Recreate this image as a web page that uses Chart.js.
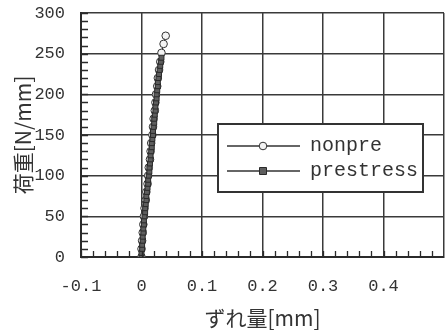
<!DOCTYPE html>
<html>
<head>
<meta charset="utf-8">
<script src="https://cdn.jsdelivr.net/npm/chart.js@4.4.0/dist/chart.umd.min.js"></script>
<style>
  html, body { margin: 0; padding: 0; background: #fff; overflow: hidden; }
  #wrap { width: 449px; height: 331px; }
</style>
</head>
<body>
<div id="wrap"><canvas id="c"></canvas></div>
<script>
// load [N/mm] vs slip [mm]
const prestressLoad = [0, 5, 10, 15, 20, 25, 30, 35, 40, 45, 50, 55, 60, 65, 70, 75, 80, 85, 90, 95,
  100, 105, 110, 115, 120, 125, 130, 135, 140, 145, 150, 155, 160, 165, 170, 175, 180, 185, 190, 195,
  200, 205, 210, 215, 220, 225, 230, 235, 240, 245];
const prestressSlip = [0.000, 0.000, 0.001, 0.001, 0.002, 0.002, 0.003, 0.003, 0.004, 0.004,
  0.005, 0.006, 0.006, 0.007, 0.008, 0.008, 0.009, 0.010, 0.011, 0.011,
  0.012, 0.013, 0.013, 0.014, 0.015, 0.015, 0.016, 0.017, 0.017, 0.018,
  0.019, 0.019, 0.020, 0.021, 0.021, 0.022, 0.023, 0.023, 0.024, 0.025,
  0.025, 0.026, 0.027, 0.027, 0.028, 0.029, 0.030, 0.031, 0.032, 0.033];

const nonpreLoad = [0, 10, 20, 30, 40, 50, 60, 70, 80, 90, 100, 110, 120, 130, 140, 150, 160, 170,
  180, 190, 200, 210, 220, 230, 240, 251, 262, 272];
const nonpreSlip = [0.000, 0.000, 0.001, 0.002, 0.003, 0.004, 0.005, 0.007, 0.008, 0.010, 0.011,
  0.012, 0.014, 0.015, 0.016, 0.018, 0.019, 0.020, 0.022, 0.023, 0.024, 0.026, 0.027, 0.029,
  0.031, 0.033, 0.0365, 0.040];

const seriesNames = ["nonpre", "prestress"];
const xTitle = "ずれ量[mm]";
const yTitle = "荷重[N/mm]";

const toPoints = (xs, ys) => xs.map((x, i) => ({ x: x, y: ys[i] }));

const monoFont = "'Liberation Mono', 'DejaVu Sans Mono', monospace";
const cjkFont = "'Noto Sans CJK JP', sans-serif";
const ink = "#2a2a2a";

// inward minor ticks + legend box
const decorations = {
  id: "decorations",
  afterDatasetsDraw(chart) {
    const ctx = chart.ctx;
    const area = chart.chartArea;
    const xs = chart.scales.x;
    const ys = chart.scales.y;
    ctx.save();
    ctx.strokeStyle = ink;
    ctx.lineWidth = 1.3;
    ctx.beginPath();
    for (let v = -0.1; v < 0.5; v += 0.02) {
      const px = Math.round(xs.getPixelForValue(v)) + 0.5;
      ctx.moveTo(px, area.bottom);
      ctx.lineTo(px, area.bottom - 6);
    }
    for (let v = 0; v <= 300; v += 10) {
      const py = Math.round(ys.getPixelForValue(v)) + 0.5;
      ctx.moveTo(area.left, py);
      ctx.lineTo(area.left + 7, py);
    }
    ctx.stroke();

    // legend
    const bx = 218, by = 124, bw = 205, bh = 68;
    ctx.fillStyle = "#fff";
    ctx.fillRect(bx, by, bw, bh);
    ctx.lineWidth = 2;
    ctx.strokeStyle = "#333";
    ctx.strokeRect(bx, by, bw, bh);
    const rows = [146, 171];
    chart.data.datasets.forEach((ds, i) => {
      const y = rows[i];
      ctx.strokeStyle = ds.borderColor;
      ctx.lineWidth = 1.5;
      ctx.beginPath();
      ctx.moveTo(227, y);
      ctx.lineTo(300, y);
      ctx.stroke();
      ctx.fillStyle = ds.pointBackgroundColor;
      ctx.strokeStyle = ds.pointBorderColor;
      ctx.lineWidth = 1;
      ctx.beginPath();
      if (ds.pointStyle === "rect") {
        ctx.rect(263 - 3.5, y - 3.5, 7, 7);
      } else {
        ctx.arc(263, y, 3.8, 0, Math.PI * 2);
      }
      ctx.fill();
      ctx.stroke();
      ctx.fillStyle = "#333";
      ctx.font = "20px " + monoFont;
      ctx.textBaseline = "middle";
      ctx.fillText(ds.label, 310, y);
    });
    ctx.restore();
  }
};

new Chart(document.getElementById("c"), {
  type: "scatter",
  data: {
    datasets: [
      {
        label: seriesNames[0],
        data: toPoints(nonpreSlip, nonpreLoad),
        showLine: true,
        borderColor: "#333",
        borderWidth: 1.2,
        pointStyle: "circle",
        pointRadius: 3.8,
        pointBackgroundColor: "#f4f4f4",
        pointBorderColor: "#333",
        pointBorderWidth: 1,
        order: 1
      },
      {
        label: seriesNames[1],
        data: toPoints(prestressSlip, prestressLoad),
        showLine: true,
        borderColor: "#333",
        borderWidth: 1.2,
        pointStyle: "rect",
        pointRadius: 3.5,
        pointBackgroundColor: "#5e5e5e",
        pointBorderColor: "#2a2a2a",
        pointBorderWidth: 1,
        order: 0
      }
    ]
  },
  options: {
    responsive: true,
    maintainAspectRatio: false,
    animation: false,
    layout: { padding: { top: 13, right: 0, left: 0, bottom: 0 } },
    plugins: { legend: { display: false }, tooltip: { enabled: false } },
    scales: {
      x: {
        type: "linear",
        min: -0.1,
        max: 0.5,
        afterFit: (s) => { s.height = 74; },
        grid: { color: "#3a3a3a", lineWidth: 1.5, drawTicks: true, tickLength: 18, tickColor: "rgba(0,0,0,0)" },
        border: { color: ink, width: 2 },
        ticks: {
          stepSize: 0.1,
          padding: 1,
          autoSkip: false,
          maxRotation: 0,
          color: "#333",
          font: { family: monoFont, size: 17 },
          callback: (v) => (Math.abs(v - 0.5) < 1e-9 ? "" : Math.abs(v) < 1e-9 ? "0" : v.toFixed(1))
        },
        title: {
          display: true,
          text: xTitle,
          color: "#333",
          font: { family: cjkFont, size: 21 },
          padding: { top: 0, bottom: 0 }
        }
      },
      y: {
        min: 0,
        max: 300,
        afterFit: (s) => { s.width = 81; },
        grid: { color: "#3a3a3a", lineWidth: 1.5, drawTicks: true, tickLength: 14, tickColor: "rgba(0,0,0,0)" },
        border: { color: ink, width: 2 },
        ticks: {
          stepSize: 50,
          padding: 2,
          color: "#333",
          font: { family: monoFont, size: 17 }
        },
        title: {
          display: true,
          text: yTitle,
          color: "#333",
          font: { family: cjkFont, size: 21 },
          padding: { top: 10, bottom: 0 }
        }
      }
    }
  },
  plugins: [decorations]
});
</script>
</body>
</html>
